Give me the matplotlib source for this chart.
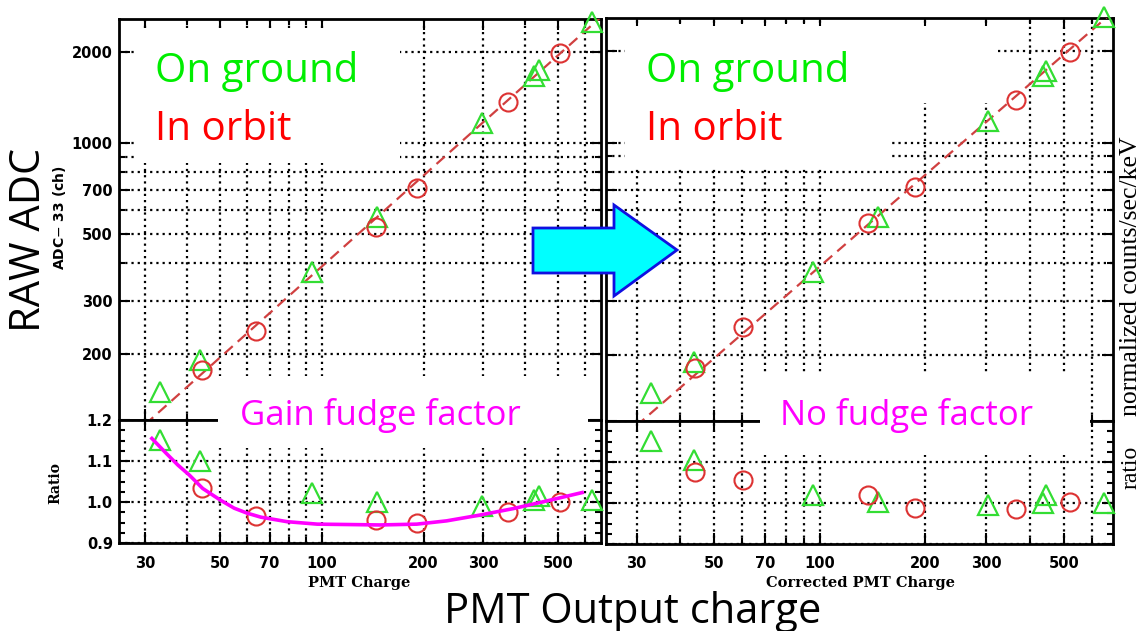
import matplotlib
matplotlib.use('Agg')
import matplotlib.pyplot as plt
from matplotlib.ticker import FixedLocator, NullFormatter, FixedFormatter
from matplotlib.patches import Rectangle, Polygon

# ---------------- data ----------------
# Left panel (with gain fudge factor)
ground_x_left = [33.2, 43.5, 93.3, 145.6, 298, 425, 440, 630]
ground_adc_left = [150, 191, 374, 569, 1165, 1660, 1740, 2517]
ground_ratio_left = [1.151, 1.100, 1.022, 1.000, 0.990, 1.005, 1.015, 1.005]

orbit_x_left = [44.1, 63.8, 145, 191, 356, 507]
orbit_adc_left = [177, 238, 527, 710, 1367, 1986]
orbit_ratio_left = [1.035, 0.966, 0.956, 0.949, 0.976, 1.000]

fudge_x = [31.4, 34.6, 37.5, 40.5, 44.4, 50, 55, 60, 66, 78.9, 96.9, 121, 148.7, 191, 234, 293, 369, 460, 589]
fudge_ratio = [1.155, 1.119, 1.090, 1.066, 1.033, 1.005, 0.985, 0.973, 0.963, 0.952, 0.946, 0.945,
               0.944, 0.946, 0.954, 0.968, 0.984, 1.002, 1.023]

# Right panel (corrected PMT charge, no fudge factor)
ground_x_right = [32.9, 43.6, 95.5, 146.5, 303, 436, 445, 652]
ground_adc_right = [150, 189, 374, 569, 1174, 1654, 1718, 2590]
ground_ratio_right = [1.151, 1.105, 1.020, 1.002, 0.995, 1.000, 1.020, 1.000]

orbit_x_right = [44.0, 60.6, 137.9, 188, 364, 522]
orbit_adc_right = [181, 246, 543, 715, 1378, 1986]
orbit_ratio_right = [1.075, 1.055, 1.020, 0.988, 0.985, 1.002]

# Linear reference line (ADC = 3.9 x PMT charge)
fit_x = [25, 700]
fit_adc = [97.5, 2730]

x_major_ticks = [30, 50, 70, 100, 200, 300, 500]
x_minor_ticks = [40, 60, 80, 90, 400, 600]
adc_major_ticks = [200, 300, 500, 700, 1000, 2000]
adc_minor_ticks = [400, 600, 800, 900]
ratio_ticks = [0.9, 1.0, 1.1, 1.2]
ratio_tick_labels = ['0.9', '1.0', '1.1', '1.2']

# ---------------- figure ----------------
W, H = 1142, 631
fig = plt.figure(figsize=(W / 100, H / 100), dpi=100)
fig.patch.set_facecolor('white')


def fx(x):
    return x / W


def fy(y):
    return 1 - y / H


def rect(x0, y0, x1, y1):
    return [fx(x0), fy(y1), fx(x1) - fx(x0), fy(y0) - fy(y1)]


GREEN = '#33dd33'
RED = '#dd3333'
MAGENTA = '#ff00ff'
TICKFONT = dict(family='DejaVu Sans', weight='bold', size=10.5)

axLT = fig.add_axes(rect(119, 19, 601, 420))
axLR = fig.add_axes(rect(119, 420, 601, 543))
axRT = fig.add_axes(rect(606, 18, 1113, 421))
axRR = fig.add_axes(rect(606, 421, 1113, 544))


def style(ax, xlim, is_top, show_y, show_x):
    ax.set_xscale('log')
    ax.set_xlim(*xlim)
    ax.xaxis.set_major_locator(FixedLocator(x_major_ticks))
    ax.xaxis.set_minor_locator(FixedLocator(x_minor_ticks))
    ax.xaxis.set_minor_formatter(NullFormatter())
    if show_x:
        ax.xaxis.set_major_formatter(FixedFormatter([str(v) for v in x_major_ticks]))
    else:
        ax.xaxis.set_major_formatter(NullFormatter())
    if is_top:
        ax.set_yscale('log')
        ax.set_ylim(121, 2572)
        ax.yaxis.set_major_locator(FixedLocator(adc_major_ticks))
        ax.yaxis.set_minor_locator(FixedLocator(adc_minor_ticks))
        ax.yaxis.set_minor_formatter(NullFormatter())
        if show_y:
            ax.yaxis.set_major_formatter(FixedFormatter([str(v) for v in adc_major_ticks]))
        else:
            ax.yaxis.set_major_formatter(NullFormatter())
    else:
        ax.set_ylim(0.9, 1.2)
        ax.yaxis.set_major_locator(FixedLocator(ratio_ticks))
        ax.yaxis.set_minor_locator(FixedLocator([0.925, 0.95, 0.975, 1.025, 1.05, 1.075,
                                                 1.125, 1.15, 1.175]))
        if show_y:
            ax.yaxis.set_major_formatter(FixedFormatter(ratio_tick_labels))
        else:
            ax.yaxis.set_major_formatter(NullFormatter())
    gkw = dict(color='black', linestyle=(0, (1, 1.8)), linewidth=1.6)
    ax.grid(True, which='major', **gkw)
    ax.grid(True, which='minor', axis='x', **gkw)
    if is_top:
        ax.grid(True, which='minor', axis='y', **gkw)
    ax.tick_params(which='both', direction='in', top=True, right=True, width=1.5, colors='black')
    ax.tick_params(which='major', length=8)
    ax.tick_params(which='minor', length=4)
    ax.tick_params(axis='x', which='major', pad=9)
    ax.tick_params(axis='y', which='major', pad=4.5)
    for lab in ax.get_xticklabels() + ax.get_yticklabels():
        lab.set_fontfamily(TICKFONT['family'])
        lab.set_fontweight(TICKFONT['weight'])
        lab.set_fontsize(TICKFONT['size'])
    for s in ax.spines.values():
        s.set_linewidth(2)
    ax.set_axisbelow(True)


style(axLT, (25.1, 670), True, True, False)
style(axLR, (25.1, 670), False, True, True)
style(axRT, (24.5, 691), True, False, False)
style(axRR, (24.5, 691), False, False, True)

tri_kw = dict(linestyle='none', marker='^', markersize=14.5, markerfacecolor='none',
              markeredgecolor=GREEN, markeredgewidth=1.6, clip_on=False, zorder=4)
circ_kw = dict(linestyle='none', marker='o', markersize=13, markerfacecolor='none',
               markeredgecolor=RED, markeredgewidth=1.5, clip_on=False, zorder=4)
line_kw = dict(color='#d04040', linestyle=(0, (5, 3)), linewidth=1.6, zorder=3)

# Left panel
axLT.plot(fit_x, fit_adc, **line_kw)
axLT.plot(ground_x_left, ground_adc_left, **tri_kw)
axLT.plot(orbit_x_left, orbit_adc_left, **circ_kw)
axLR.plot(ground_x_left, ground_ratio_left, **tri_kw)
axLR.plot(orbit_x_left, orbit_ratio_left, **circ_kw)
axLR.plot(fudge_x, fudge_ratio, color=MAGENTA, linewidth=2.6, zorder=5)

# Right panel
axRT.plot(fit_x, fit_adc, **line_kw)
axRT.plot(ground_x_right, ground_adc_right, **tri_kw)
axRT.plot(orbit_x_right, orbit_adc_right, **circ_kw)
axRR.plot(ground_x_right, ground_ratio_right, **tri_kw)
axRR.plot(orbit_x_right, orbit_ratio_right, **circ_kw)

# White text boxes of the slide (cover the grid)
for (x0, y0, x1, y1) in [(137, 28, 400, 163), (625, 26, 994, 103), (625, 26, 892, 167),
                         (218, 376, 588, 448), (760, 372, 1090, 455)]:
    fig.patches.append(Rectangle((fx(x0), fy(y1)), fx(x1) - fx(x0), fy(y0) - fy(y1),
                                 transform=fig.transFigure, facecolor='white',
                                 edgecolor='none', zorder=10))

# Cyan arrow
arrow_px = [(533, 228), (614, 228), (614, 205), (677, 250), (614, 296), (614, 273), (533, 273)]
fig.patches.append(Polygon([(fx(a), fy(b)) for a, b in arrow_px], closed=True,
                           transform=fig.transFigure, facecolor='#00ffff',
                           edgecolor='#1010e0', linewidth=2, zorder=11))

# Slide texts
SLIDE = 'Open Sans'
big = 29
fig.text(fx(155), fy(82), 'On ground', color='#00ee00', fontsize=big, family=SLIDE, va='baseline', zorder=12)
fig.text(fx(155), fy(140), 'In orbit', color='#ff0000', fontsize=big, family=SLIDE, va='baseline', zorder=12)
fig.text(fx(646), fy(82), 'On ground', color='#00ee00', fontsize=big, family=SLIDE, va='baseline', zorder=12)
fig.text(fx(646), fy(140), 'In orbit', color='#ff0000', fontsize=big, family=SLIDE, va='baseline', zorder=12)
fig.text(fx(240), fy(425), 'Gain fudge factor', color=MAGENTA, fontsize=25, family=SLIDE, va='baseline', zorder=12)
fig.text(fx(780), fy(425), 'No fudge factor', color=MAGENTA, fontsize=25, family=SLIDE, va='baseline', zorder=12)
fig.text(fx(633), fy(623), 'PMT Output charge', color='black', fontsize=30, family=SLIDE,
         ha='center', va='baseline', zorder=12)
fig.text(fx(29), fy(240), 'RAW ADC', color='black', fontsize=30, family=SLIDE, rotation=90,
         ha='center', va='center', zorder=12)

# Plot labels
fig.text(fx(359), fy(583), 'PMT Charge', family='DejaVu Serif', weight='bold', fontsize=10.5,
         ha='center', va='center')
fig.text(fx(860), fy(583), 'Corrected PMT Charge', family='DejaVu Serif', weight='bold', fontsize=10.5,
         ha='center', va='center')
fig.text(fx(55), fy(483), 'Ratio', family='DejaVu Serif', weight='bold', fontsize=10,
         rotation=90, ha='center', va='center')
fig.text(fx(60), fy(218), 'ADC$-$ 33 (ch)', family='DejaVu Sans', weight='bold', fontsize=10,
         rotation=90, ha='center', va='center')
fig.text(fx(1131), fy(467), 'ratio', family='Liberation Serif', fontsize=17,
         rotation=90, ha='center', va='center')
fig.text(fx(1131), fy(276), 'normalized counts/sec/keV', family='Liberation Serif', fontsize=18.5,
         rotation=90, ha='center', va='center')

fig.savefig('out.png', dpi=100, facecolor='white')
